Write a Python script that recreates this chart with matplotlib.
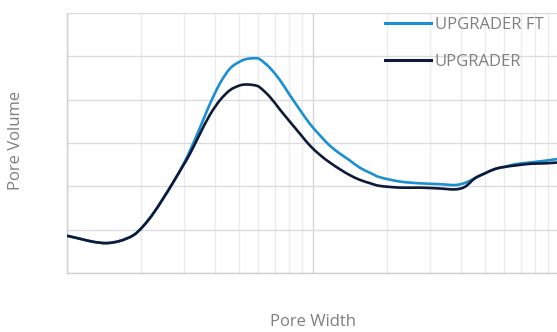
import matplotlib
matplotlib.use("Agg")
import numpy as np
import matplotlib.pyplot as plt
from matplotlib.path import Path
from matplotlib.patches import PathPatch
from matplotlib.lines import Line2D
from matplotlib.ticker import LogLocator, NullFormatter, MultipleLocator

plt.rcParams['font.family'] = ['Open Sans', 'DejaVu Sans']

# Pore width (log axis, arbitrary units) and pore volume readings
pore_width = [1.00, 1.13, 1.28, 1.45, 1.64, 1.86, 2.04, 2.24, 2.46, 2.70, 2.96,
              3.16, 3.47, 3.81, 4.19, 4.60, 5.05, 5.39, 5.81, 6.09, 6.69, 7.34,
              8.06, 8.86, 9.72, 10.7, 11.7, 12.9, 14.1, 15.5, 17.1, 18.7, 22.6,
              27.2, 32.8, 37.8, 41.5, 45.6, 50.0, 54.9, 60.3, 66.3, 76.2, 87.7, 98.1]

upgrader_ft = [0.86, 0.79, 0.72, 0.69, 0.74, 0.87, 1.08, 1.37, 1.72, 2.09, 2.49,
               2.82, 3.35, 3.90, 4.38, 4.72, 4.88, 4.94, 4.955, 4.93, 4.73, 4.45,
               4.10, 3.76, 3.44, 3.17, 2.94, 2.75, 2.60, 2.43, 2.31, 2.21, 2.11,
               2.07, 2.05, 2.03, 2.08, 2.19, 2.30, 2.40, 2.45, 2.51, 2.55, 2.59, 2.63]

upgrader = [0.86, 0.79, 0.72, 0.69, 0.74, 0.87, 1.08, 1.37, 1.72, 2.09, 2.47,
            2.75, 3.21, 3.65, 3.99, 4.22, 4.33, 4.35, 4.33, 4.28, 4.06, 3.77,
            3.49, 3.21, 2.94, 2.72, 2.55, 2.39, 2.26, 2.15, 2.07, 2.01, 1.97,
            1.97, 1.95, 1.93, 1.99, 2.19, 2.30, 2.40, 2.45, 2.48, 2.52, 2.53, 2.55]

series_labels = ["UPGRADER FT", "UPGRADER"]
series_colors = ["#1b8fd2", "#0e1a38"]
x_label = "Pore Width"
y_label = "Pore Volume"


def smooth_path(xs, ys):
    """Catmull-Rom spline through the readings, as cubic Bezier segments
    (control points built in log-x space so the curve is smooth on screen)."""
    lx = np.log10(np.asarray(xs, float))
    y = np.asarray(ys, float)
    n = len(lx)
    verts = [(xs[0], ys[0])]
    codes = [Path.MOVETO]
    for i in range(n - 1):
        i0 = max(i - 1, 0)
        i3 = min(i + 2, n - 1)
        c1x = lx[i] + (lx[i + 1] - lx[i0]) / 6.0
        c1y = y[i] + (y[i + 1] - y[i0]) / 6.0
        c2x = lx[i + 1] - (lx[i3] - lx[i]) / 6.0
        c2y = y[i + 1] - (y[i3] - y[i]) / 6.0
        verts += [(10 ** c1x, c1y), (10 ** c2x, c2y), (xs[i + 1], ys[i + 1])]
        codes += [Path.CURVE4] * 3
    return Path(verts, codes)


fig = plt.figure(figsize=(5.57, 3.32), dpi=100)
ax = fig.add_axes([67/557, 59/332, 492/557, 260/332])

ax.set_xscale("log")
ax.set_xlim(1, 100)
ax.set_ylim(0, 6)

for xs, ys, col, z in [(pore_width, upgrader_ft, series_colors[0], 3),
                       (pore_width, upgrader, series_colors[1], 4)]:
    patch = PathPatch(smooth_path(xs, ys), facecolor="none", edgecolor=col,
                      lw=1.9, zorder=z, capstyle="butt")
    ax.add_patch(patch)

ax.xaxis.set_major_locator(LogLocator(base=10, numticks=5))
ax.xaxis.set_minor_locator(LogLocator(base=10, subs=range(2, 10), numticks=20))
ax.xaxis.set_major_formatter(NullFormatter())
ax.xaxis.set_minor_formatter(NullFormatter())
ax.yaxis.set_major_locator(MultipleLocator(1))
ax.set_yticklabels([])
ax.tick_params(which="both", length=0)

ax.grid(True, which="major", axis="y", color="#dcdcdc", lw=1.0)
ax.grid(True, which="minor", axis="x", color="#ececec", lw=1.0)
ax.grid(True, which="major", axis="x", color="#d6d6d6", lw=1.0)
ax.set_axisbelow(True)

for s in ["top", "right"]:
    ax.spines[s].set_visible(False)
for s in ["left", "bottom"]:
    ax.spines[s].set_color("#d0d0d0")
    ax.spines[s].set_linewidth(1.0)

handles = [Line2D([], [], color=c, lw=2.2) for c in series_colors]
leg = ax.legend(handles, series_labels, loc="upper left", bbox_to_anchor=(0.646, 0.985),
                frameon=False, borderpad=0, borderaxespad=0, handlelength=2.75,
                handletextpad=0.25, labelspacing=1.25, fontsize=12)
for t in leg.get_texts():
    t.set_color("#7f7f7f")

fig.text(313/557, (332-322)/332, x_label, ha="center", va="center", fontsize=12, color="#7f7f7f")
fig.text(16/557, (332-140)/332, y_label, ha="center", va="center", rotation=90,
         fontsize=12, color="#7f7f7f")

fig.savefig("out.png", dpi=100)
